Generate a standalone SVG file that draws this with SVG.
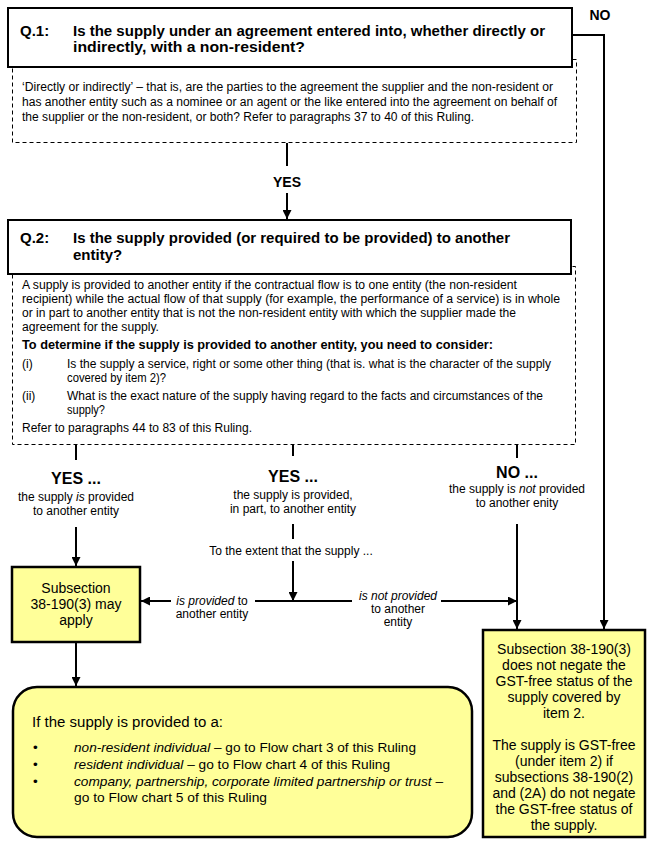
<svg xmlns="http://www.w3.org/2000/svg" width="653" height="844" viewBox="0 0 653 844">
<style>
text{font-family:"Liberation Sans",Arial,sans-serif;fill:#000}
.q{font-size:15px;font-weight:bold}
.d{font-size:12px}
.db{font-size:12px;font-weight:bold}
.lb{font-size:16px;font-weight:bold;text-anchor:middle}
.lb2{font-size:14px;font-weight:bold;text-anchor:middle}
.l{font-size:12px;text-anchor:middle}
.y{font-size:14px;text-anchor:middle}
.r{font-size:14px}
.rb{font-size:13.5px}
.box{fill:#fff;stroke:#000;stroke-width:2}
.dash{fill:none;stroke:#000;stroke-width:1;stroke-dasharray:4,3}
.yel{fill:#FFFF99;stroke:#000;stroke-width:2.5}
.c{fill:none;stroke:#000;stroke-width:2}
.ca{fill:none;stroke:#000;stroke-width:2;marker-end:url(#ah)}
</style>
<defs>
<marker id="ah" viewBox="0 0 10 10" refX="10" refY="5" markerWidth="9" markerHeight="9" markerUnits="userSpaceOnUse" orient="auto">
<path d="M0,0 L10,5 L0,10 z" fill="#000"/>
</marker>
</defs>
<rect width="653" height="844" fill="#fff"/>

<g id="q1-note">
<rect class="dash" x="12.5" y="59.5" width="564" height="83"/>
<text class="d" x="22" y="91" textLength="531" lengthAdjust="spacingAndGlyphs">‘Directly or indirectly’  – that is, are the parties to the agreement the supplier and the non-resident or</text>
<text class="d" x="22" y="106" textLength="535" lengthAdjust="spacingAndGlyphs">has another entity such as a nominee or an agent or the like entered into the agreement on behalf of</text>
<text class="d" x="22" y="121" textLength="452" lengthAdjust="spacingAndGlyphs">the supplier or the non-resident, or both? Refer to paragraphs 37 to 40 of this Ruling.</text>
</g>
<g id="q1">
<rect class="box" x="8" y="8" width="564" height="59"/>
<text class="q" x="20" y="36">Q.1:</text>
<text class="q" x="73" y="36" textLength="472" lengthAdjust="spacingAndGlyphs">Is the supply under an agreement entered into, whether directly or</text>
<text class="q" x="73" y="52" textLength="232" lengthAdjust="spacingAndGlyphs">indirectly, with a non-resident?</text>
</g>

<g id="q2-note">
<rect class="dash" x="12.5" y="266.5" width="563" height="178"/>
<text class="d" x="22" y="289" textLength="495" lengthAdjust="spacingAndGlyphs">A supply is provided to another entity if the contractual flow is to one entity (the non-resident</text>
<text class="d" x="22" y="303" textLength="538" lengthAdjust="spacingAndGlyphs">recipient) while the actual flow of that supply (for example, the performance of a service) is in whole</text>
<text class="d" x="22" y="317" textLength="494" lengthAdjust="spacingAndGlyphs">or in part to another entity that is not the non-resident entity with which the supplier made the</text>
<text class="d" x="22" y="331" textLength="137" lengthAdjust="spacingAndGlyphs">agreement for the supply.</text>
<text class="db" x="22" y="349" textLength="471" lengthAdjust="spacingAndGlyphs">To determine if the supply is provided to another entity, you need to consider:</text>
<text class="d" x="22" y="368">(i)</text>
<text class="d" x="67" y="368" textLength="484" lengthAdjust="spacingAndGlyphs">Is the supply a service, right or some other thing (that is. what is the character of the supply</text>
<text class="d" x="67" y="382" textLength="99" lengthAdjust="spacingAndGlyphs">covered by item 2)?</text>
<text class="d" x="22" y="400">(ii)</text>
<text class="d" x="67" y="400" textLength="476" lengthAdjust="spacingAndGlyphs">What is the exact nature of the supply having regard to the facts and circumstances of the</text>
<text class="d" x="67" y="414" textLength="38" lengthAdjust="spacingAndGlyphs">supply?</text>
<text class="d" x="22" y="432" textLength="230" lengthAdjust="spacingAndGlyphs">Refer to paragraphs 44 to 83 of this Ruling.</text>
</g>
<g id="q2">
<rect class="box" x="8" y="220" width="563" height="54"/>
<text class="q" x="20" y="243">Q.2:</text>
<text class="q" x="73" y="243" textLength="437" lengthAdjust="spacingAndGlyphs">Is the supply provided (or required to be provided) to another</text>
<text class="q" x="73" y="260">entity?</text>
</g>

<g id="connectors">
<polyline class="ca" points="572,35 604,35 604,629"/>
<line class="c" x1="287" y1="143" x2="287" y2="166"/>
<line class="ca" x1="287" y1="193" x2="287" y2="219"/>
<line class="c" x1="76" y1="445" x2="76" y2="460"/>
<line class="c" x1="293" y1="445" x2="293" y2="456"/>
<line class="c" x1="517" y1="445" x2="517" y2="458"/>
<line class="ca" x1="76" y1="527" x2="76" y2="566"/>
<line class="c" x1="293" y1="524" x2="293" y2="539"/>
<line class="ca" x1="293" y1="561" x2="293" y2="601"/>
<line class="ca" x1="171" y1="601" x2="141" y2="601"/>
<line class="c" x1="255" y1="601" x2="352" y2="601"/>
<line class="ca" x1="441" y1="601" x2="517" y2="601"/>
<line class="ca" x1="517" y1="524" x2="517" y2="629"/>
<line class="ca" x1="76" y1="642" x2="76" y2="686"/>
<text class="lb2" x="600" y="20">NO</text>
<text class="lb2" x="287" y="187">YES</text>
<text class="lb" x="76" y="484">YES ...</text>
<text class="l" x="76" y="501">the supply <tspan font-style="italic">is</tspan> provided</text>
<text class="l" x="76" y="515">to another entity</text>
<text class="lb" x="293" y="482">YES ...</text>
<text class="l" x="293" y="499">the supply is provided,</text>
<text class="l" x="293" y="513">in part, to another entity</text>
<text class="lb" x="517" y="478">NO ...</text>
<text class="l" x="517" y="493">the supply i<tspan font-style="italic">s not</tspan> provided</text>
<text class="l" x="517" y="507">to another enity</text>
<text class="l" x="291" y="555">To the extent that the supply ...</text>
<text class="l" x="212" y="605"><tspan font-style="italic">is provided</tspan> to</text>
<text class="l" x="212" y="618">another entity</text>
<text class="l" x="398" y="600" font-style="italic">is not provided</text>
<text class="l" x="398" y="613">to another</text>
<text class="l" x="398" y="626">entity</text>
</g>

<g id="may-apply">
<rect class="yel" x="12" y="567" width="128" height="75"/>
<text class="y" x="76" y="593">Subsection</text>
<text class="y" x="76" y="609">38-190(3) may</text>
<text class="y" x="76" y="625">apply</text>
</g>

<g id="flowcharts">
<rect class="yel" x="13" y="687" width="459" height="150" rx="24" ry="24"/>
<text class="r" x="32" y="727" textLength="191" lengthAdjust="spacingAndGlyphs">If the supply is provided to a:</text>
<text class="rb" x="33" y="752">•</text>
<text class="rb" x="74" y="752" textLength="342" lengthAdjust="spacingAndGlyphs"><tspan font-style="italic">non-resident individual</tspan> – go to Flow chart 3 of this Ruling</text>
<text class="rb" x="33" y="769">•</text>
<text class="rb" x="74" y="769" textLength="316" lengthAdjust="spacingAndGlyphs"><tspan font-style="italic">resident individual</tspan> – go to Flow chart 4 of this Ruling</text>
<text class="rb" x="33" y="786">•</text>
<text class="rb" x="74" y="786" textLength="369" lengthAdjust="spacingAndGlyphs"><tspan font-style="italic">company, partnership, corporate limited partnership or trust</tspan> –</text>
<text class="rb" x="74" y="802" textLength="193" lengthAdjust="spacingAndGlyphs">go to Flow chart 5 of this Ruling</text>
</g>

<g id="not-negate">
<rect class="yel" x="483" y="630" width="162" height="207"/>
<text class="y" x="564" y="654">Subsection 38-190(3)</text>
<text class="y" x="564" y="670">does not negate the</text>
<text class="y" x="564" y="686">GST-free status of the</text>
<text class="y" x="564" y="702">supply covered by</text>
<text class="y" x="564" y="718">item 2.</text>
<text class="y" x="564" y="750">The supply is GST-free</text>
<text class="y" x="564" y="766">(under item 2) if</text>
<text class="y" x="564" y="782">subsections 38-190(2)</text>
<text class="y" x="564" y="798">and (2A) do not negate</text>
<text class="y" x="564" y="814">the GST-free status of</text>
<text class="y" x="564" y="830">the supply.</text>
</g>
</svg>
